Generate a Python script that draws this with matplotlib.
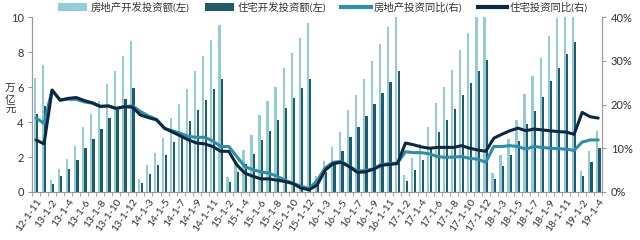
import matplotlib
matplotlib.use("Agg")
import matplotlib.pyplot as plt
import numpy as np
from matplotlib.patches import Patch
from matplotlib.lines import Line2D
from matplotlib.ticker import FixedLocator, FuncFormatter

plt.rcParams['font.family'] = ['Lato', 'Noto Sans CJK SC', 'DejaVu Sans']

labels = ["12-1-11", "12-1-12",
          "13-1-2", "13-1-3", "13-1-4", "13-1-5", "13-1-6", "13-1-7", "13-1-8", "13-1-9", "13-1-10", "13-1-11", "13-1-12",
          "14-1-2", "14-1-3", "14-1-4", "14-1-5", "14-1-6", "14-1-7", "14-1-8", "14-1-9", "14-1-10", "14-1-11", "14-1-12",
          "15-1-2", "15-1-3", "15-1-4", "15-1-5", "15-1-6", "15-1-7", "15-1-8", "15-1-9", "15-1-10", "15-1-11", "15-1-12",
          "16-1-2", "16-1-3", "16-1-4", "16-1-5", "16-1-6", "16-1-7", "16-1-8", "16-1-9", "16-1-10", "16-1-11", "16-1-12",
          "17-1-2", "17-1-3", "17-1-4", "17-1-5", "17-1-6", "17-1-7", "17-1-8", "17-1-9", "17-1-10", "17-1-11", "17-1-12",
          "18-1-2", "18-1-3", "18-1-4", "18-1-5", "18-1-6", "18-1-7", "18-1-8", "18-1-9", "18-1-10", "18-1-11", "18-1-12",
          "19-1-2", "19-1-3", "19-1-4"]

invest_total = [6.51, 7.24,
                0.67, 1.31, 1.90, 2.65, 3.71, 4.44, 5.20, 6.15, 6.93, 7.75, 8.65,
                0.76, 1.52, 2.23, 3.09, 4.21, 5.03, 5.90, 6.93, 7.75, 8.70, 9.56,
                0.86, 1.65, 2.38, 3.28, 4.40, 5.20, 6.00, 7.09, 7.92, 8.80, 9.66,
                0.90, 1.78, 2.57, 3.43, 4.70, 5.55, 6.45, 7.50, 8.48, 9.43, 10.26,
                0.95, 1.93, 2.75, 3.72, 5.08, 6.02, 6.99, 8.10, 9.10, 10.04, 10.98,
                1.07, 2.13, 3.05, 4.13, 5.58, 6.62, 7.68, 8.91, 9.95, 11.01, 12.03,
                1.22, 2.36, 3.46]

invest_resi = [4.48, 4.93,
               0.46, 0.90, 1.33, 1.81, 2.51, 3.05, 3.58, 4.21, 4.70, 5.33, 5.94,
               0.53, 1.03, 1.56, 2.13, 2.86, 3.35, 4.04, 4.70, 5.28, 5.89, 6.48,
               0.57, 1.12, 1.59, 2.15, 2.95, 3.50, 4.12, 4.80, 5.35, 5.94, 6.48,
               0.58, 1.15, 1.72, 2.32, 3.12, 3.71, 4.36, 5.03, 5.68, 6.30, 6.93,
               0.61, 1.28, 1.85, 2.48, 3.45, 4.10, 4.76, 5.52, 6.23, 6.93, 7.56,
               0.72, 1.50, 2.13, 2.90, 3.90, 4.65, 5.43, 6.36, 7.09, 7.89, 8.57,
               0.90, 1.71, 2.51]

yoy_total = [16.9, 15.7,
             23.3, 21.0, 21.2, 21.2, 20.6, 20.3, 19.5, 19.6, 19.1, 19.5, 19.7,
             18.4, 17.4, 16.6, 14.5, 14.0, 13.4, 12.7, 12.5, 12.5, 11.7, 10.4,
             10.4, 8.1, 5.8, 5.1, 4.6, 4.3, 3.6, 2.7, 2.0, 1.3, 0.8,
             2.6, 5.5, 6.8, 7.0, 5.9, 4.8, 4.9, 5.3, 6.3, 6.5, 6.6,
             9.2, 9.0, 9.0, 8.7, 8.1, 7.9, 8.0, 8.1, 7.7, 7.5, 6.8,
             10.4, 10.4, 10.6, 10.4, 9.8, 10.4, 10.2, 10.0, 9.9, 9.8, 9.5,
             11.4, 11.9, 11.9]

yoy_resi = [11.9, 11.0,
            23.3, 21.0, 21.4, 21.6, 20.9, 20.4, 19.6, 19.7, 19.1, 19.5, 19.4,
            17.6, 17.0, 16.5, 14.6, 13.7, 12.8, 11.9, 11.2, 11.0, 10.4, 9.3,
            9.3, 6.2, 4.3, 3.6, 3.0, 3.0, 2.7, 2.4, 1.9, 0.9, 0.5,
            1.6, 5.0, 6.5, 6.8, 5.8, 4.5, 4.6, 5.2, 6.1, 6.3, 6.5,
            11.2, 10.8, 10.3, 10.0, 10.2, 10.2, 10.2, 10.6, 10.0, 9.6, 9.3,
            12.3, 13.2, 14.0, 14.6, 14.0, 14.4, 14.2, 14.0, 13.8, 13.7, 13.2,
            18.2, 17.2, 16.9]

names = ["房地产开发投资额(左)", "住宅开发投资额(左)", "房地产投资同比(右)", "住宅投资同比(右)"]

c_light = "#93cbd9"
c_dark = "#215b6b"
c_teal = "#2f8ea6"
c_navy = "#0e2742"
c_axis = "#9a9a9a"
c_text = "#333333"

fig = plt.figure(figsize=(6.4, 2.4), dpi=100)
ax = fig.add_axes([0.05, 0.2, 0.891, 0.729])
x = np.arange(len(labels))
bw = 0.28
ax.bar(x - 0.17, invest_total, width=bw, color=c_light, zorder=2)
ax.bar(x + 0.15, invest_resi, width=bw, color=c_dark, zorder=2)
ax.set_xlim(-0.5, len(labels) - 0.5)
ax.set_ylim(0, 10)
ax.set_yticks([0, 2, 4, 6, 8, 10])

ax2 = ax.twinx()
ax2.plot(x, yoy_total, color=c_teal, lw=2.2, solid_joinstyle='round', solid_capstyle='round', zorder=3)
ax2.plot(x, yoy_resi, color=c_navy, lw=2.2, solid_joinstyle='round', solid_capstyle='round', zorder=4)
ax2.set_ylim(0, 40)
ax2.set_yticks([0, 10, 20, 30, 40])
ax2.yaxis.set_major_formatter(FuncFormatter(lambda v, p: f"{int(v)}%"))

for a in (ax, ax2):
    a.spines['top'].set_visible(False)
    for s in ('left', 'right', 'bottom'):
        a.spines[s].set_color(c_axis)
        a.spines[s].set_linewidth(0.8)
ax.tick_params(axis='y', colors=c_axis, labelcolor=c_text, labelsize=8, length=3, width=0.8, pad=3)
ax2.tick_params(axis='y', colors=c_axis, labelcolor=c_text, labelsize=8, length=3, width=0.8, pad=3)

ax.set_xticks(x[::2])
ax.set_xticklabels(labels[::2], rotation=55, ha='right', rotation_mode='anchor', fontsize=7.5, color=c_text)
ax.tick_params(axis='x', which='major', length=0, pad=4)
ax.xaxis.set_minor_locator(FixedLocator(np.arange(-0.5, len(labels), 1.0)))
ax.tick_params(axis='x', which='minor', length=3, width=0.6, colors=c_axis)

fig.text(0.016, 0.585, "万\n亿\n元", ha='center', va='center', fontsize=7.5, color=c_text, linespacing=1.15)

handles = [Patch(facecolor=c_light, edgecolor='none'),
           Patch(facecolor=c_dark, edgecolor='none'),
           Line2D([0], [0], color=c_teal, lw=3),
           Line2D([0], [0], color=c_navy, lw=3)]
fig.legend(handles, names, loc='upper center', bbox_to_anchor=(0.505, 1.03), ncol=4, frameon=False,
           fontsize=7.5, handlelength=2.8, handleheight=0.8, handletextpad=0.3, columnspacing=1.5,
           labelcolor=c_text)

fig.savefig("out.png", dpi=100)
